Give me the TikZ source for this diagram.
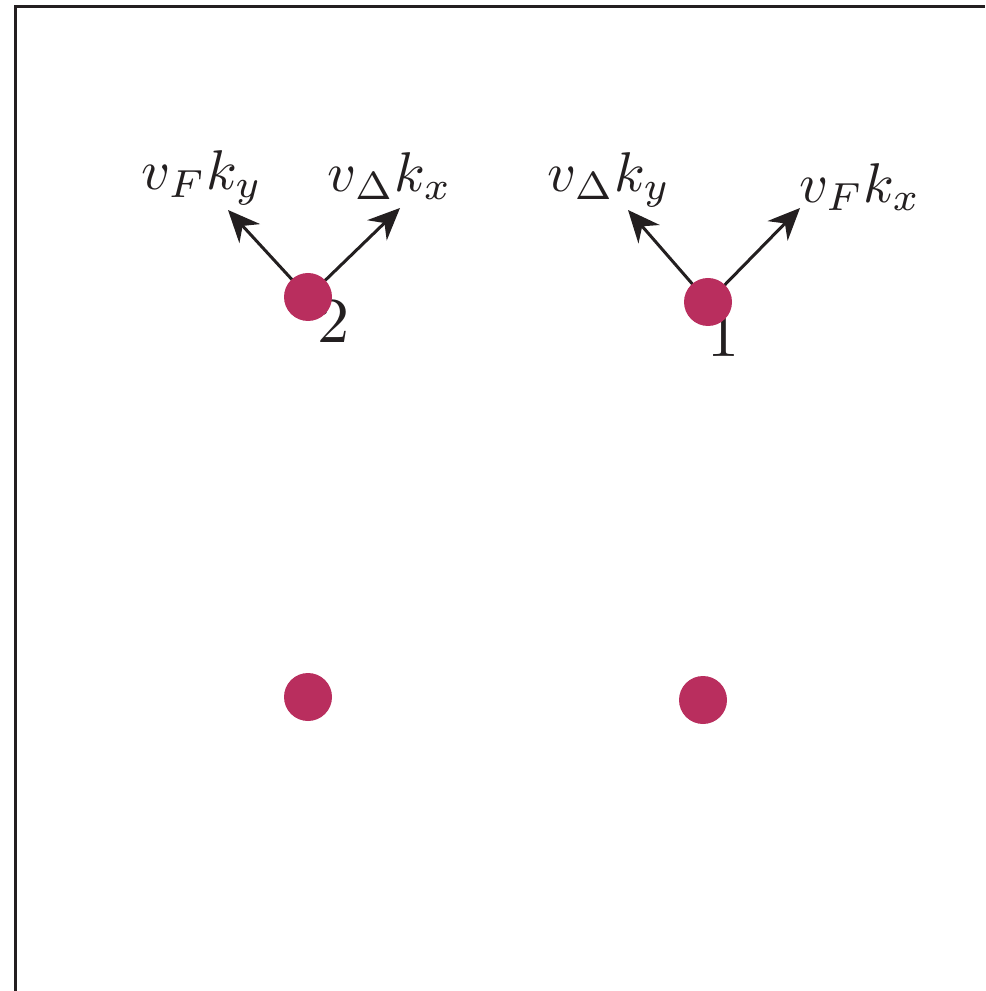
\documentclass[tikz,border=0pt]{standalone}
\usetikzlibrary{arrows.meta}
\definecolor{dotred}{RGB}{185,46,94}
\definecolor{ink}{RGB}{35,31,32}
\newcommand{\lbltext}[1]{\scalebox{1.4}{#1}}
\newcommand{\numtext}[1]{\scalebox{1.6}{#1}}
\tikzset{
  dotnode/.style={circle,fill=dotred,inner sep=0pt,minimum size=12pt},
  vec/.style={draw=ink,line width=0.75pt,-{Stealth[length=8pt,width=7pt]}},
  lbl/.style={inner sep=0pt,text=ink},
  num/.style={inner sep=0pt,text=ink},
  frame/.style={draw=ink,line width=0.75pt}
}
\begin{document}
\begin{tikzpicture}[x=0.25pt,y=-0.25pt]
\useasboundingbox (0,0) rectangle (985,991);
\coordinate (c2) at (308,297);
\coordinate (c1) at (708,302);
\coordinate (c3) at (308,697);
\coordinate (c4) at (703,700);
\coordinate (f1) at (15,991);
\coordinate (f2) at (15,7);
\coordinate (f3) at (985,7);
\draw[frame] (f1) -- (f2) -- (f3);
\coordinate (t2l) at (228,210);
\coordinate (t2r) at (400,208);
\coordinate (t1l) at (628,210);
\coordinate (t1r) at (800,208);
\draw[vec] (c2) -- (t2l);
\draw[vec] (c2) -- (t2r);
\draw[vec] (c1) -- (t1l);
\draw[vec] (c1) -- (t1r);
\node[lbl] (l2l) at (202,178) {\lbltext{$v_F k_y$}};
\node[lbl] (l2r) at (390,176) {\lbltext{$v_\Delta k_x$}};
\node[lbl] (l1l) at (609,180) {\lbltext{$v_\Delta k_y$}};
\node[lbl] (l1r) at (860,187) {\lbltext{$v_F k_x$}};
\node[num] (n2) at (333,321) {\numtext{2}};
\node[num] (n1) at (723,335) {\numtext{1}};
\node[dotnode] (d2) at (c2) {};
\node[dotnode] (d1) at (c1) {};
\node[dotnode] (d3) at (c3) {};
\node[dotnode] (d4) at (c4) {};
\end{tikzpicture}
\end{document}
